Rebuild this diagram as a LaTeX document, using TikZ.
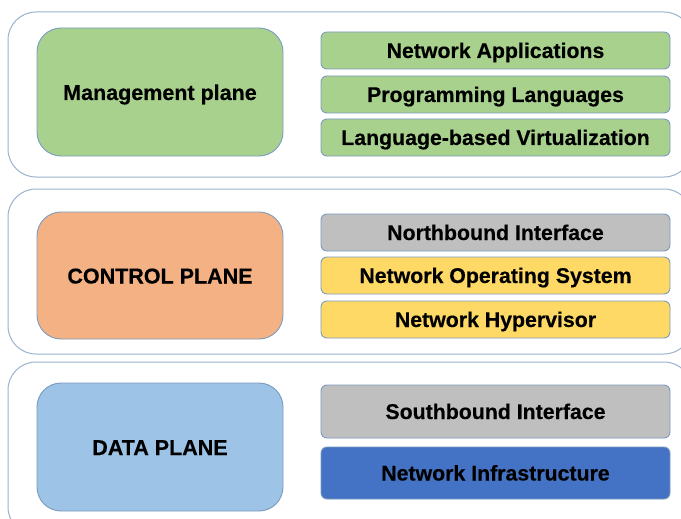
\documentclass[tikz,border=0pt]{standalone}
\usepackage{fontspec}
\setmainfont{Liberation Sans}[BoldFeatures={FakeBold=0.35}]
\definecolor{outerline}{HTML}{9BB3CE}
\definecolor{boxline}{HTML}{7C9BBE}
\definecolor{mgreen}{HTML}{A9D18E}
\definecolor{corange}{HTML}{F4B183}
\definecolor{dblue}{HTML}{9DC3E6}
\definecolor{igray}{HTML}{BFBFBF}
\definecolor{nyellow}{HTML}{FFD966}
\definecolor{ndark}{HTML}{4472C4}
\tikzset{
  layerbox/.style={draw=outerline, line width=1pt, rounded corners=28pt, fill=white},
  planebox/.style={draw=boxline, line width=0.9pt, rounded corners=24pt, minimum width=246pt, font=\bfseries\fontsize{21.5}{24}\selectfont, text=black, inner sep=0pt, text height=17.5pt, text depth=1.5pt},
  itembox/.style={draw=boxline, line width=0.9pt, rounded corners=6pt, minimum width=349pt, font=\bfseries\fontsize{21.3}{24}\selectfont, text=black, inner sep=0pt, text height=17pt, text depth=2pt},
}
\begin{document}
\begin{tikzpicture}[x=1pt,y=-1pt]
\path[clip] (0,0) rectangle (681,519);
\fill[white] (0,0) rectangle (681,519);
% layers
\draw[layerbox] (8,12) rectangle (692,177);
\draw[layerbox] (8,189) rectangle (692,354);
\draw[layerbox] (8,362) rectangle (692,535);
% plane boxes
\node[planebox, fill=mgreen, minimum height=128pt] (mgmt) at (160,92) {Management plane};
\node[planebox, fill=corange, minimum height=127pt] (ctrl) at (160,275.5) {CONTROL PLANE};
\node[planebox, fill=dblue, minimum height=128pt] (data) at (160,447) {DATA PLANE};
% items
\node[itembox, fill=mgreen, minimum height=37pt] (apps) at (495.5,50.5) {Network Applications};
\node[itembox, fill=mgreen, minimum height=37pt] (prog) at (495.5,94.5) {Programming Languages};
\node[itembox, fill=mgreen, minimum height=37pt] (virt) at (495.5,137.5) {Language-based Virtualization};
\node[itembox, fill=igray, minimum height=37pt] (nbi) at (495.5,232.5) {Northbound Interface};
\node[itembox, fill=nyellow, minimum height=37pt] (nos) at (495.5,275.5) {Network Operating System};
\node[itembox, fill=nyellow, minimum height=37pt] (hyp) at (495.5,319.5) {Network Hypervisor};
\node[itembox, fill=igray, minimum height=53pt] (sbi) at (495.5,411.5) {Southbound Interface};
\node[itembox, fill=ndark, minimum height=52pt] (infra) at (495.5,473) {Network Infrastructure};
\end{tikzpicture}
\end{document}
